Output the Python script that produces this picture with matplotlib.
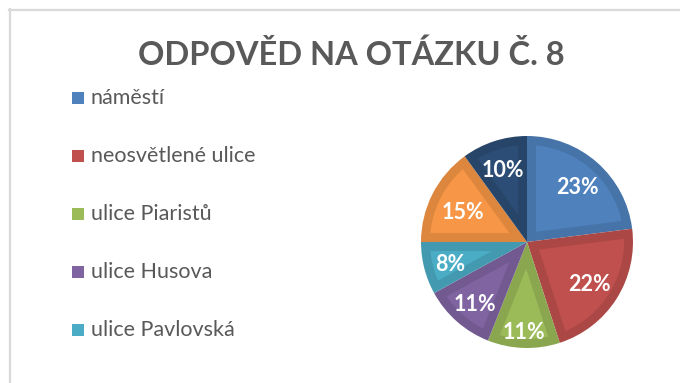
import numpy as np
import matplotlib
matplotlib.use("Agg")
import matplotlib.pyplot as plt
from matplotlib.patches import Rectangle, Polygon
from matplotlib.lines import Line2D
import matplotlib.colors as mcolors

plt.rcParams['font.family'] = ['Lato', 'DejaVu Sans']

title = "ODPOVĚD NA OTÁZKU Č. 8"
categories = ["náměstí", "neosvětlené ulice", "ulice Piaristů", "ulice Husova",
              "ulice Pavlovská", "ostatní", "nevím"]
values = [23, 22, 11, 11, 8, 15, 10]
colors = ["#4F81BD", "#C0504D", "#9BBB59", "#8064A2", "#4BACC6", "#F79646", "#2C4D75"]
label_dist = [0.72, 0.70, 0.82, 0.75, 0.75, 0.68, 0.74]  # best-fit label radii
legend_count = 5  # only the first entries fit in the legend area

W, H = 680, 383
fig = plt.figure(figsize=(W / 100, H / 100), dpi=100)
fig.patch.set_facecolor("white")

# chart-area border (top and left edges visible)
fig.add_artist(Line2D([9 / W, 1], [1 - 10 / H, 1 - 10 / H], color="#d9d9d9", lw=1.6,
                      transform=fig.transFigure))
fig.add_artist(Line2D([10 / W, 10 / W], [0, 1 - 9 / H], color="#d9d9d9", lw=1.6,
                      transform=fig.transFigure))

fig.text(351 / W, 1 - 55 / H, title, ha="center", va="center", fontsize=23.5,
         fontweight="bold", color="#595959")

# pie
cx, cy, r = 527, 242, 106
ax = fig.add_axes([(cx - r) / W, (H - cy - r) / H, 2 * r / W, 2 * r / H])
darker = [tuple(v * 0.89 for v in mcolors.to_rgb(c)) for c in colors]
wedges, texts, autotexts = ax.pie(
    values, colors=darker, startangle=90, counterclock=False,
    autopct=lambda p: f"{p:.0f}%", pctdistance=0.75,
    wedgeprops=dict(linewidth=0),
    textprops=dict(color="white", fontsize=15.5, fontweight="bold", zorder=5))
ax.set_xlim(-1.0, 1.0)
ax.set_ylim(-1.0, 1.0)
ax.set_aspect("auto")
ax.axis("off")

# bevelled look: lighter inset face on each slice
band = 0.085
for w, c, t, d in zip(wedges, colors, autotexts, label_dist):
    t1, t2 = np.radians(w.theta1), np.radians(w.theta2)
    half = (t2 - t1) / 2
    mid = (t1 + t2) / 2
    rin = w.r - band
    apex_d = band / np.sin(half)
    delta = np.arcsin(band / rin)
    ts = np.linspace(t1 + delta, t2 - delta, 60)
    pts = [(apex_d * np.cos(mid), apex_d * np.sin(mid))]
    pts += [(rin * np.cos(a), rin * np.sin(a)) for a in ts]
    ax.add_patch(Polygon(pts, closed=True, facecolor=c, edgecolor="none", zorder=2))
    t.set_position((d * np.cos(mid), d * np.sin(mid) - 0.03))

# legend
for i in range(legend_count):
    y = 98 + i * 58
    fig.add_artist(Rectangle((72 / W, 1 - (y + 6) / H), 12 / W, 12 / H,
                             facecolor=colors[i], edgecolor="none",
                             transform=fig.transFigure))
    fig.text(91 / W, 1 - y / H, categories[i], ha="left", va="center",
             fontsize=15.5, color="#595959")

fig.savefig("out.png", dpi=100)
